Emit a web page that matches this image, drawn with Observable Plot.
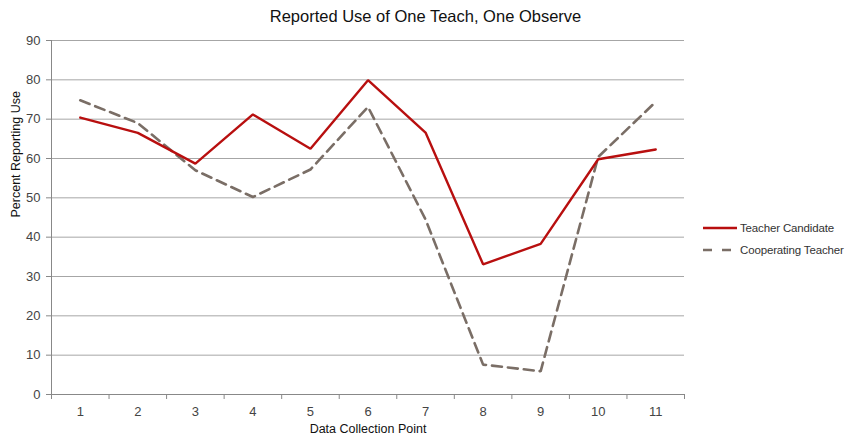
<!DOCTYPE html>
<html>
<head>
<meta charset="utf-8">
<script src="https://cdn.jsdelivr.net/npm/d3@7"></script>
<script src="https://cdn.jsdelivr.net/npm/@observablehq/plot@0.6"></script>
<style>
  html, body { margin: 0; padding: 0; background: #fff; }
  #wrap { position: relative; width: 851px; height: 438px; font-family: "Liberation Sans", sans-serif; }
  #title { position: absolute; left: 0; width: 851px; top: 7px; text-align: center; font-size: 16.5px; color: #111; }
  #legend { position: absolute; left: 703px; top: 217px; font-size: 11.5px; letter-spacing: -0.15px; color: #333; white-space: nowrap; }
  .row { display: flex; align-items: center; height: 22px; white-space: nowrap; }
  .row svg { margin-right: 3px; flex: none; }
</style>
</head>
<body>
<div id="wrap">
  <div id="title">Reported Use of One Teach, One Observe</div>
  <div id="legend"></div>
</div>
<script>
// Data collection points and reported percentages per group
const points = [1, 2, 3, 4, 5, 6, 7, 8, 9, 10, 11];
const candidate = [70.4, 66.5, 58.7, 71.2, 62.5, 79.9, 66.6, 33.1, 38.3, 59.8, 62.3];
const cooperating = [74.8, 69.0, 57.0, 50.2, 57.2, 73.1, 44.5, 7.6, 5.9, 60.4, 74.4];
const yTicks = [0, 10, 20, 30, 40, 50, 60, 70, 80, 90];
const seriesNames = ["Teacher Candidate", "Cooperating Teacher"];

const RED = "#b80f0f";
const BROWN = "#7a6e66";
const rows = [
  ...points.map((p, i) => ({point: p, value: candidate[i], series: seriesNames[0]})),
  ...points.map((p, i) => ({point: p, value: cooperating[i], series: seriesNames[1]}))
];
const boundaries = d3.range(0.5, 12, 1);

const chart = Plot.plot({
  width: 851,
  height: 438,
  marginLeft: 51,
  marginRight: 167,
  marginTop: 40,
  marginBottom: 44,
  style: {fontFamily: "'Liberation Sans', sans-serif", fontSize: "12.5px", color: "#444", background: "transparent"},
  x: {domain: [0.5, 11.5]},
  y: {domain: [0, 90]},
  marks: [
    Plot.gridY(yTicks, {stroke: "#a6a6a6", strokeOpacity: 1, strokeWidth: 1}),
    Plot.axisY(yTicks, {tickSize: 5, tickPadding: 6, stroke: "#888", fill: "#444", fontSize: 13, label: null}),
    Plot.axisX(boundaries, {tickSize: 5, tickFormat: () => "", stroke: "#888", label: null}),
    Plot.axisX(points, {tickSize: 0, tickPadding: 12, fill: "#444", fontSize: 13, label: null}),
    Plot.ruleX([0.5], {stroke: "#888"}),
    Plot.ruleY([0], {stroke: "#888"}),
    Plot.line(rows.filter(d => d.series === seriesNames[1]), {
      x: "point", y: "value", stroke: BROWN, strokeWidth: 2.6, strokeDasharray: "10,6", strokeLinejoin: "miter"
    }),
    Plot.line(rows.filter(d => d.series === seriesNames[0]), {
      x: "point", y: "value", stroke: RED, strokeWidth: 2.4, strokeLinejoin: "miter"
    }),
    Plot.text(["Data Collection Point"], {frameAnchor: "bottom", dy: 38, fontSize: 12.5, fill: "#111"}),
    Plot.text(["Percent Reporting Use"], {frameAnchor: "left", dx: -36, rotate: -90, fontSize: 12.5, fill: "#111"})
  ]
});
document.getElementById("wrap").prepend(chart);
chart.style.position = "absolute";
chart.style.left = "0";
chart.style.top = "0";

// Legend swatches
const legend = document.getElementById("legend");
[[seriesNames[0], RED, null], [seriesNames[1], BROWN, "9,10"]].forEach(([name, color, dash]) => {
  const row = document.createElement("div");
  row.className = "row";
  row.innerHTML = `<svg width="34" height="6"><line x1="0" x2="34" y1="3" y2="3" stroke="${color}" stroke-width="2.6" ${dash ? `stroke-dasharray="${dash}"` : ""}/></svg><span>${name}</span>`;
  legend.appendChild(row);
});
</script>
</body>
</html>
